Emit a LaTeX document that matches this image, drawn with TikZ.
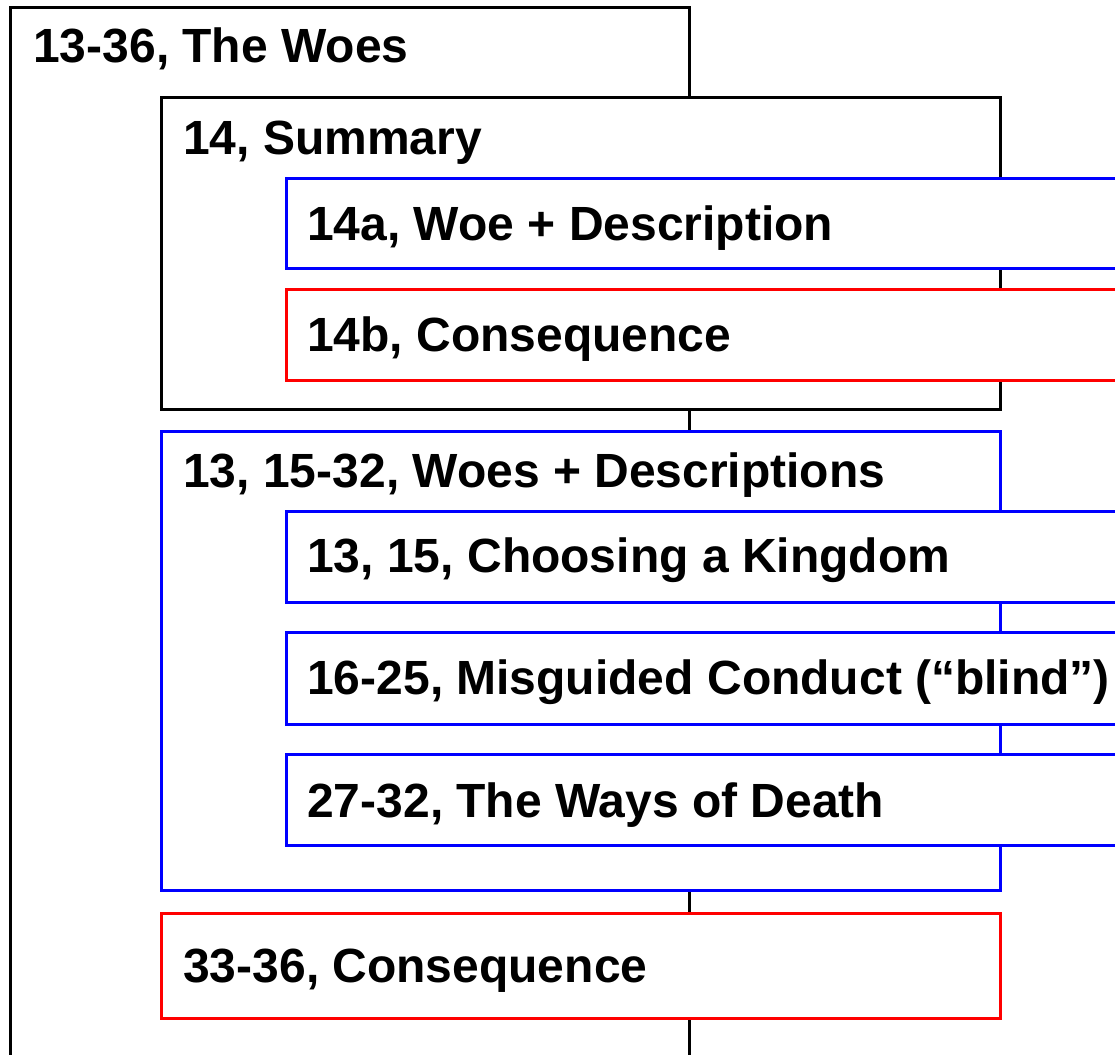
\documentclass[tikz,border=0pt]{standalone}
\usepackage{fontspec}
\setmainfont{Liberation Sans}
\usetikzlibrary{fit}
\begin{document}
\begin{tikzpicture}[x=0.75pt,y=-0.75pt,
  boxbase/.style={rectangle,inner sep=0pt,outer sep=0pt,line width=2.25pt,fill=white},
  blackbox/.style={boxbase,draw=black},
  bluebox/.style={boxbase,draw=blue},
  redbox/.style={boxbase,draw=red},
  lbl/.style={anchor=base west,inner sep=0pt,font=\fontsize{36}{40}\selectfont\bfseries}]
\useasboundingbox (0,0) rectangle (1115,1055);
\clip (0,0) rectangle (1115,1055);
% outer box
\node[blackbox,fill=none,fit={(10,8) (689,1080)}] (outer) {};
\node[lbl] (outerT) at (33,63) {13-36, The Woes};
% summary
\node[blackbox,fit={(161,98) (1000,410)}] (summary) {};
\node[lbl] (summaryT) at (183,155) {14, Summary};
\node[bluebox,fit={(286,179) (1140,269)}] (b14a) {};
\node[lbl] (b14aT) at (307,241) {14a, Woe + Description};
\node[redbox,fit={(286,290) (1140,381)}] (b14b) {};
\node[lbl] (b14bT) at (307,352) {14b, Consequence};
% woes + descriptions
\node[bluebox,fit={(161,432) (1000,890)}] (woes) {};
\node[lbl] (woesT) at (183,488) {13, 15-32, Woes + Descriptions};
\node[bluebox,fit={(286,512) (1140,603)}] (kingdom) {};
\node[lbl] (kingdomT) at (307,573) {13, 15, Choosing a Kingdom};
\node[bluebox,fit={(286,633) (1140,724)}] (conduct) {};
\node[lbl] (conductT) at (307,695) {16-25, Misguided Conduct (“blind”)};
\node[bluebox,fit={(286,754) (1140,845)}] (death) {};
\node[lbl] (deathT) at (307,817) {27-32, The Ways of Death};
% consequence
\node[redbox,fit={(161,913) (1000,1018)}] (cons) {};
\node[lbl] (consT) at (183,982) {33-36, Consequence};
\end{tikzpicture}
\end{document}
